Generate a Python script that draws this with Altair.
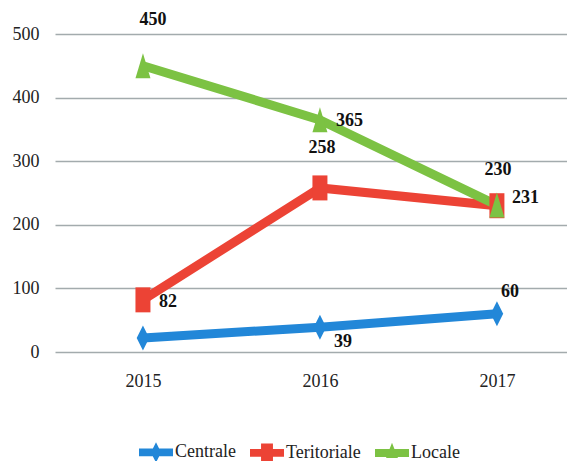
import altair as alt
import pandas as pd

years = [2015, 2016, 2017]
series_names = ["Centrale", "Teritoriale", "Locale"]
centrale = [22, 39, 60]
teritoriale = [82, 258, 230]
locale = [450, 365, 231]
colors = ["#2287d8", "#ec4335", "#7cc243"]
y_ticks = [0, 100, 200, 300, 400, 500]

rows = []
for name, vals in zip(series_names, [centrale, teritoriale, locale]):
    for yr, v in zip(years, vals):
        rows.append({"series": name, "year": yr, "value": v, "key": f"{name}-{yr}"})
df = pd.DataFrame(rows)

FONT = "Liberation Serif"

x_enc = alt.X("year:Q", scale=alt.Scale(domain=[2014.503, 2017.396], nice=False, zero=False),
              axis=alt.Axis(values=years, format="d", grid=False, domain=False, ticks=False,
                            labelFont=FONT, labelFontSize=18, labelColor="#222",
                            labelPadding=20, title=None))
y_enc = alt.Y("value:Q", scale=alt.Scale(domain=[0, 500], nice=False),
              axis=alt.Axis(values=y_ticks, grid=True, gridColor="#a3abad", gridWidth=1.5,
                            domain=False, ticks=False, labelFont=FONT, labelFontSize=18,
                            labelColor="#222", labelPadding=16, title=None))
color_scale = alt.Scale(domain=series_names, range=colors)

base = alt.Chart(df)

lines = base.mark_line(strokeWidth=9).encode(
    x=x_enc, y=y_enc,
    color=alt.Color("series:N", scale=color_scale, legend=None),
    detail="series:N",
)

marker_paths = {
    "Centrale": "M0,-1 L0.5,0 L0,1 L-0.5,0 Z",
    "Teritoriale": "M-0.6,-1 L0.6,-1 L0.6,1 L-0.6,1 Z",
    "Locale": "M0,-1 L0.6,1 L-0.6,1 Z",
}
markers = []
for name in series_names:
    markers.append(
        base.transform_filter(alt.datum.series == name)
        .mark_point(filled=True, opacity=1, size=625, shape=marker_paths[name])
        .encode(x=x_enc, y=y_enc,
                color=alt.Color("series:N", scale=color_scale, legend=None))
    )

legend_paths = [
    "M-1,-0.23 L1,-0.23 L1,0.23 L-1,0.23 Z M0,-0.6 L0.3,0 L0,0.6 L-0.3,0 Z",
    "M-1,-0.23 L1,-0.23 L1,0.23 L-1,0.23 Z M-0.35,-0.55 L0.35,-0.55 L0.35,0.55 L-0.35,0.55 Z",
    "M-1,-0.23 L1,-0.23 L1,0.23 L-1,0.23 Z M0,-0.6 L0.35,0.3 L-0.35,0.3 Z",
]
legend_spec = alt.Legend(title=None, orient="none", legendX=84, legendY=401,
                         direction="horizontal", symbolSize=1156, symbolStrokeWidth=0,
                         labelFont=FONT, labelFontSize=18, labelColor="#222",
                         labelOffset=2, columnPadding=14)
# legend-only layer: its points sit outside the y domain and are clipped away
legend_layer = base.transform_calculate(hidden="-1000", entry="datum.series").mark_point(
    filled=True, size=1156, opacity=1, clip=True
).encode(
    x=x_enc,
    y=alt.Y("hidden:Q", scale=alt.Scale(domain=[0, 500], nice=False)),
    color=alt.Color("entry:N", scale=alt.Scale(domain=series_names, range=colors),
                    legend=legend_spec),
    shape=alt.Shape("entry:N", scale=alt.Scale(domain=series_names, range=legend_paths),
                    legend=legend_spec),
)

# label placements: key -> (align, dx, dy)
placements = {
    "Locale-2015": ("center", 10, -46),
    "Teritoriale-2016": ("center", 2, -40),
    "Teritoriale-2017": ("center", 1, -36),
    "Centrale-2017": ("center", 13, -22),
    "Locale-2016": ("left", 16, 1),
    "Locale-2017": ("left", 15, -7),
    "Teritoriale-2015": ("left", 16, 2),
    "Centrale-2016": ("center", 23, 15),
}
labels = []
for key, (al, dx, dy) in placements.items():
    labels.append(
        base.transform_filter(alt.datum.key == key)
        .mark_text(font=FONT, fontSize=18, fontWeight="bold", color="#111",
                   align=al, baseline="middle", dx=dx, dy=dy)
        .encode(x=x_enc, y=y_enc, text=alt.Text("value:Q"))
    )

chart = alt.layer(lines, *markers, legend_layer, *labels).resolve_scale(
    color="independent", shape="independent"
).properties(
    width=512, height=318,
    autosize=alt.AutoSizeParams(type="none"),
    padding={"left": 47, "top": 26, "right": 0, "bottom": 109},
    background="white",
).configure_view(stroke=None)

chart.save("out.html", embed_options={"renderer": "svg", "actions": False})
